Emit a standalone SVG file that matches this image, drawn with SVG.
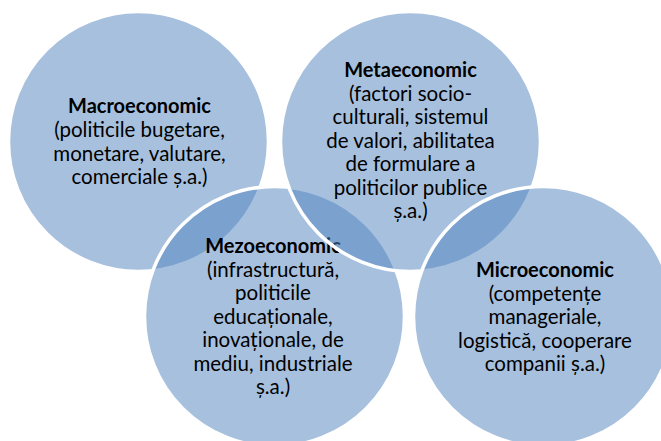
<svg xmlns="http://www.w3.org/2000/svg" width="661" height="441" viewBox="0 0 661 441">
<style>
.c{fill:#4F81BD;fill-opacity:0.5;stroke:#ffffff;stroke-width:3.5}
text{font-family:Lato,"Liberation Sans",sans-serif;font-size:20.5px;fill:#000000;text-anchor:middle}
.b{font-weight:bold;font-size:20px}
</style>
<rect width="661" height="441" fill="#ffffff"/>
<g id="macro">
<circle class="c" cx="138.5" cy="141.5" r="130"/>
<text x="139.5" y="113" class="b">Macroeconomic</text>
<text x="139.5" y="137">(politicile bugetare,</text>
<text x="139.5" y="160.5">monetare, valutare,</text>
<text x="139.5" y="184">comerciale ș.a.)</text>
</g>
<g id="mezo">
<circle class="c" cx="274.5" cy="316.5" r="130"/>
<text x="273" y="253" class="b">Mezoeconomic</text>
<text x="273" y="276.5">(infrastructură,</text>
<text x="273" y="300">politicile</text>
<text x="273" y="323.5">educaționale,</text>
<text x="273" y="347">inovaționale, de</text>
<text x="273" y="370.5">mediu, industriale</text>
<text x="273" y="394">ș.a.)</text>
</g>
<g id="meta">
<circle class="c" cx="410.5" cy="141.5" r="130"/>
<text x="410.5" y="77" class="b">Metaeconomic</text>
<text x="410.5" y="100.5">(factori socio-</text>
<text x="410.5" y="124">culturali, sistemul</text>
<text x="410.5" y="147.5">de valori, abilitatea</text>
<text x="410.5" y="171">de formulare a</text>
<text x="410.5" y="194.5">politicilor publice</text>
<text x="410.5" y="218">ș.a.)</text>
</g>
<g id="micro">
<circle class="c" cx="543.5" cy="316.5" r="130"/>
<text x="545" y="277" class="b">Microeconomic</text>
<text x="545" y="300.5">(competențe</text>
<text x="545" y="324">manageriale,</text>
<text x="545" y="347.5">logistică, cooperare</text>
<text x="545" y="371">companii ș.a.)</text>
</g>
<g id="connectors"></g>
</svg>
